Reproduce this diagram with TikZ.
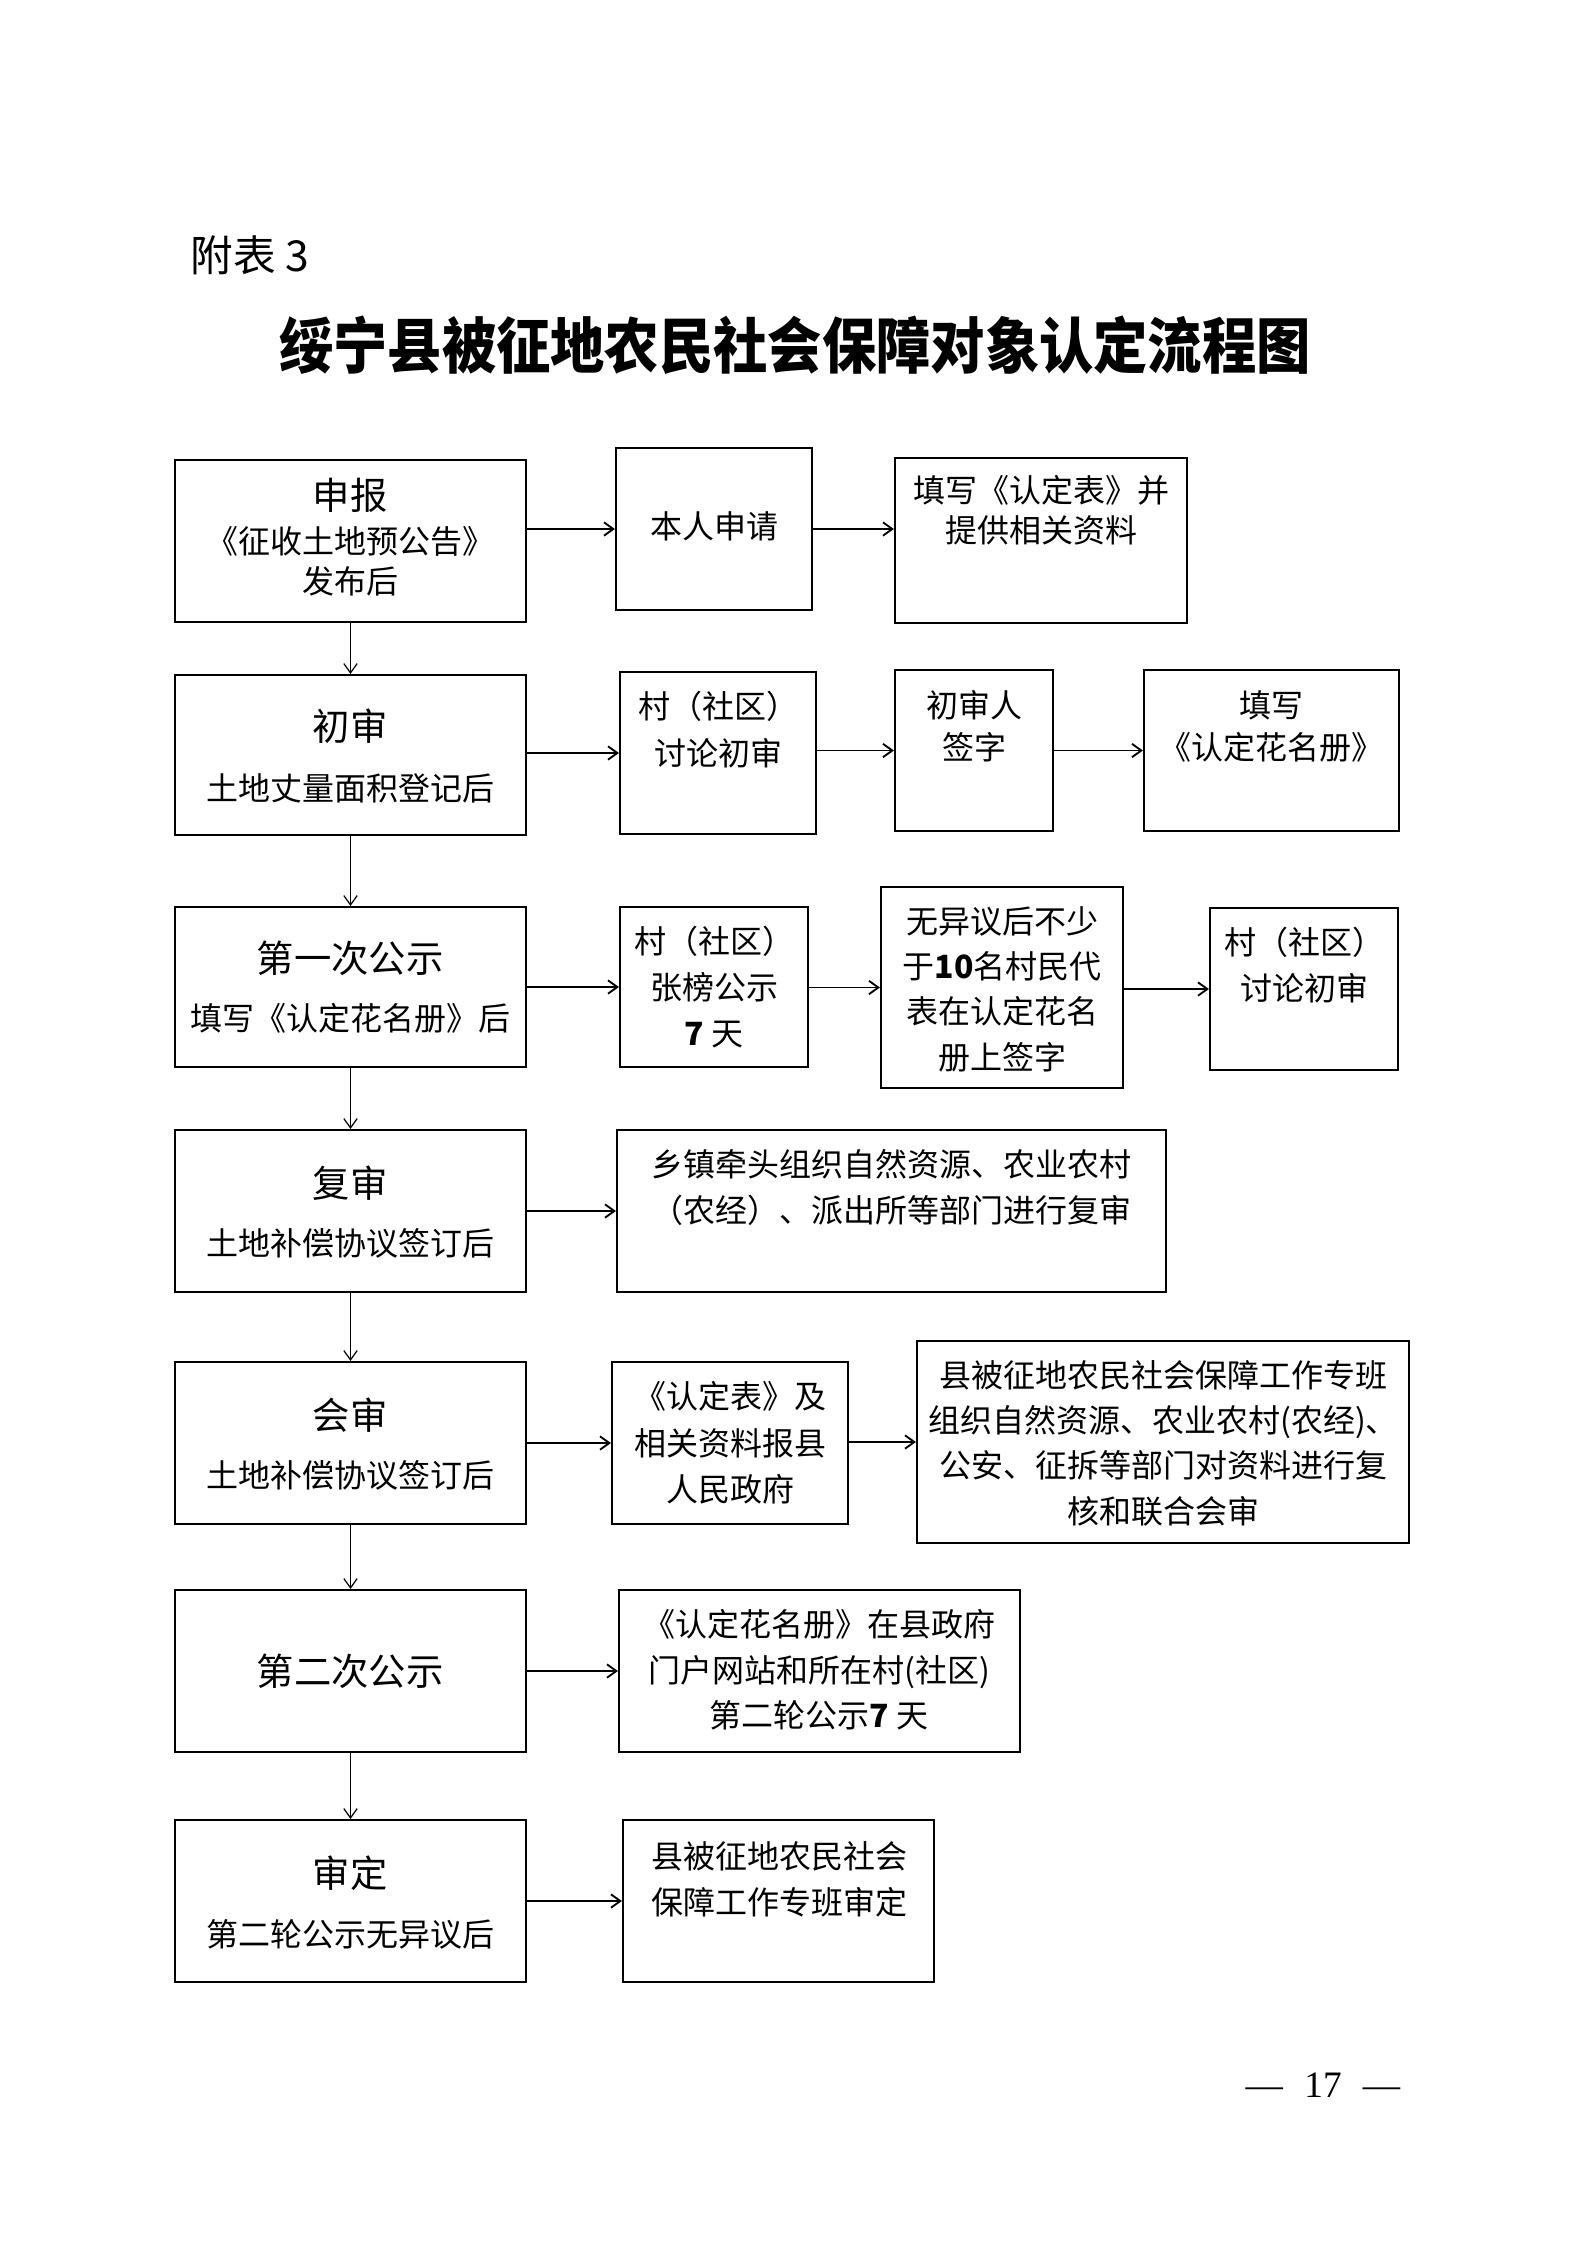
\documentclass[tikz,border=0pt]{standalone}
\usepackage{fontspec}
\setmainfont{Noto Sans CJK SC}
\newfontfamily\pnfont{Liberation Serif}
\usetikzlibrary{arrows.meta}
\tikzset{
 bx/.style={draw, line width=0.8pt, inner sep=0pt},
 tx/.style={align=center, inner sep=0pt, font=\fontsize{12pt}{#1}\selectfont},
 hd/.style={inner sep=0pt, font=\fontsize{14pt}{16pt}\selectfont},
 sb/.style={align=center, inner sep=0pt, font=\fontsize{12pt}{15pt}\selectfont},
 harr/.style={line width=0.7pt, -{Straight Barb[length=3.5pt,width=5pt]}},
 varr/.style={line width=0.45pt, -{Straight Barb[length=3.5pt,width=5pt]}},
}
\newcommand{\mkbox}[5]{\node[bx, minimum width={(#4-#2)*0.375pt}, minimum height={(#5-#3)*0.375pt}] (#1) at ({(#2+#4)/2},{(#3+#5)/2}) {};}
\begin{document}
\begin{tikzpicture}[x=0.375pt,y=-0.375pt]
\useasboundingbox (0,0) rectangle (1587,2245);
% heading
\node[inner sep=0pt, anchor=west, font=\fontsize{16pt}{18pt}\selectfont] (fb) at (190,255) {附表 3};
\node[inner sep=0pt, font=\fontsize{22.75pt}{26pt}\selectfont\bfseries] (title) at (795,345) {\scalebox{0.895}[1]{绥宁县被征地农民社会保障对象认定流程图}};
% row 1
\mkbox{a1}{175}{460}{526}{622}
\node[hd] (a1h) at (350,495) {申报};
\node[sb] (a1s) at (350,561) {《征收土地预公告》\\发布后};
\mkbox{b1}{616}{448}{812}{610}
\node[tx=15pt] (b1t) at (714,526) {本人申请};
\mkbox{c1}{895}{458}{1187}{623}
\node[tx=15pt] (c1t) at (1041,510) {填写《认定表》并\\提供相关资料};
% row 2
\mkbox{a2}{175}{675}{526}{835}
\node[hd] (a2h) at (350,726) {初审};
\node[sb] (a2s) at (350,788) {土地丈量面积登记后};
\mkbox{b2}{620}{672}{816}{834}
\node[tx=17.6pt] (b2t) at (718,730) {村（社区）\\讨论初审};
\mkbox{c2}{895}{670}{1053}{831}
\node[tx=15.75pt] (c2t) at (974,726) {初审人\\签字};
\mkbox{d2}{1144}{670}{1399}{831}
\node[tx=15.75pt] (d2t) at (1271,726) {填写\\《认定花名册》};
% row 3
\mkbox{a3}{175}{907}{526}{1067}
\node[hd] (a3h) at (350,958) {第一次公示};
\node[sb] (a3s) at (350,1018) {填写《认定花名册》后};
\mkbox{b3}{620}{907}{808}{1067}
\node[tx=17.25pt] (b3t) at (714,987) {村（社区）\\张榜公示\\{\bfseries 7} 天};
\mkbox{c3}{881}{887}{1123}{1088}
\node[tx=17pt] (c3t) at (1002,989) {无异议后不少\\于{\bfseries 10}名村民代\\表在认定花名\\册上签字};
\mkbox{d3}{1210}{908}{1398}{1070}
\node[tx=17.25pt] (d3t) at (1304,965) {村（社区）\\讨论初审};
% row 4
\mkbox{a4}{175}{1130}{526}{1292}
\node[hd] (a4h) at (350,1183) {复审};
\node[sb] (a4s) at (350,1243) {土地补偿协议签订后};
\mkbox{b4}{617}{1130}{1166}{1292}
\node[tx=17.25pt] (b4t) at (891,1187) {乡镇牵头组织自然资源、农业农村\\（农经）、派出所等部门进行复审};
% row 5
\mkbox{a5}{175}{1362}{526}{1524}
\node[hd] (a5h) at (350,1415) {会审};
\node[sb] (a5s) at (350,1475) {土地补偿协议签订后};
\mkbox{b5}{612}{1362}{848}{1524}
\node[tx=17.4pt] (b5t) at (730,1443) {《认定表》及\\相关资料报县\\人民政府};
\mkbox{c5}{917}{1341}{1409}{1543}
\node[tx=17pt] (c5t) at (1163,1443) {县被征地农民社会保障工作专班\\组织自然资源、农业农村(农经)、\\公安、征拆等部门对资料进行复\\核和联合会审};
% row 6
\mkbox{a6}{175}{1590}{526}{1752}
\node[hd] (a6h) at (350,1671) {第二次公示};
\mkbox{b6}{619}{1590}{1020}{1752}
\node[tx=17pt] (b6t) at (819,1670) {《认定花名册》在县政府\\门户网站和所在村(社区)\\第二轮公示{\bfseries 7} 天};
% row 7
\mkbox{a7}{175}{1820}{526}{1982}
\node[hd] (a7h) at (350,1873) {审定};
\node[sb] (a7s) at (350,1934) {第二轮公示无异议后};
\mkbox{b7}{623}{1820}{934}{1982}
\node[tx=17.25pt] (b7t) at (779,1879) {县被征地农民社会\\保障工作专班审定};
% page number
\node[inner sep=0pt, font=\pnfont\fontsize{14pt}{16pt}\selectfont] (pg) at (1323,2085) {—\hspace{8pt}17\hspace{8pt}—};
% horizontal arrows
\draw[harr] (a1.east |- b1.west) -- (b1.west);
\draw[harr] (b1.east) -- (c1.west |- b1.east);
\draw[harr] (a2.east |- b2.west) -- (b2.west);
\draw[harr] (b2.east |- c2.west) -- (c2.west);
\draw[harr] (c2.east) -- (d2.west);
\draw[harr] (a3.east |- b3.west) -- (b3.west);
\draw[harr] (b3.east |- c3.west) -- (c3.west);
\draw[harr] (c3.east |- d3.west) -- (d3.west);
\draw[harr] (a4.east |- b4.west) -- (b4.west);
\draw[harr] (a5.east |- b5.west) -- (b5.west);
\draw[harr] (b5.east |- c5.west) -- (c5.west);
\draw[harr] (a6.east |- b6.west) -- (b6.west);
\draw[harr] (a7.east |- b7.west) -- (b7.west);
% vertical arrows
\draw[varr] (a1.south) -- (a2.north);
\draw[varr] (a2.south) -- (a3.north);
\draw[varr] (a3.south) -- (a4.north);
\draw[varr] (a4.south) -- (a5.north);
\draw[varr] (a5.south) -- (a6.north);
\draw[varr] (a6.south) -- (a7.north);
\end{tikzpicture}
\end{document}
